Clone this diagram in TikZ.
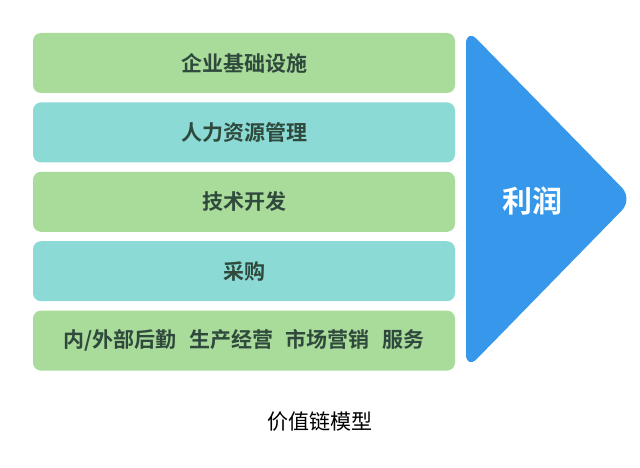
\documentclass[tikz,border=0pt]{standalone}
\usepackage{fontspec}
\newfontfamily\cjk{Noto Sans CJK SC}[BoldFont={Noto Sans CJK SC Bold}]
\usetikzlibrary{positioning}
\definecolor{barGreen}{HTML}{A9DB9B}
\definecolor{barTeal}{HTML}{8BDAD5}
\definecolor{arrowBlue}{HTML}{3797EA}
\definecolor{barText}{HTML}{2F4A3C}
\tikzset{
  bar/.style={fill=#1, rounded corners=8pt, minimum width=422pt, minimum height=60pt,
    inner sep=0pt, text=barText, font=\cjk\bfseries\fontsize{21pt}{24pt}\selectfont},
  bar/.default=barGreen
}

\begin{document}
\begin{tikzpicture}[x=1pt,y=-1pt]
\useasboundingbox (0,0) rectangle (640,468);

% support activities
\node[bar] (infra) at (244,63) {企业基础设施};
\node[bar=barTeal, below=9pt of infra] (hr) {人力资源管理};
\node[bar, below=9pt of hr] (tech) {技术开发};
\node[bar=barTeal, below=9pt of tech] (buy) {采购};
% primary activities
\node[bar, below=9pt of buy] (primary) {内/外部后勤\hspace{0.6em}生产经营\hspace{0.6em}市场营销\hspace{0.6em}服务};

% margin
\coordinate (T0) at (466,199);
\coordinate (T1) at (466,28);
\coordinate (T2) at (633,199);
\coordinate (T3) at (466,370);
\fill[arrowBlue, rounded corners=16pt] (T0) -- (T1) -- (T2) -- (T3) -- cycle;
\node[text=white, font=\cjk\bfseries\fontsize{30pt}{33pt}\selectfont] (profit) at (532,201) {利润};

\node[font=\cjk\fontsize{21pt}{24pt}\selectfont] (title) at (320,422) {价值链模型};
\end{tikzpicture}
\end{document}
